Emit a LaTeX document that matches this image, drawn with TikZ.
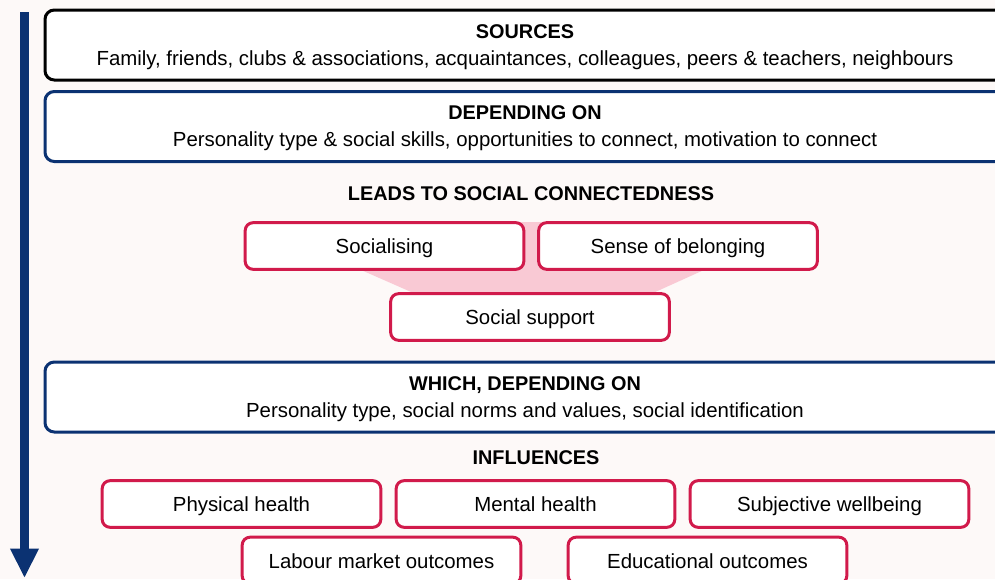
\documentclass[tikz,border=0pt]{standalone}
\usepackage{fontspec}
\setmainfont{Liberation Sans}
\usetikzlibrary{arrows.meta}

\definecolor{navy}{HTML}{0B3272}
\definecolor{crimson}{HTML}{D11A4B}
\definecolor{blush}{HTML}{F9C9D4}
\definecolor{paper}{HTML}{FDF9F8}

\tikzset{
    widebox/.style={draw, line width=2.25pt, rounded corners=7pt, fill=white,
        minimum width=720pt, minimum height=52.5pt, align=center, text depth=0pt,
        font=\fontsize{15.3}{20.25}\selectfont},
    outcome/.style={draw=crimson, line width=2.25pt, rounded corners=6pt, fill=white,
        minimum width=209pt, minimum height=35pt, text height=11.5pt, text depth=0pt,
        font=\fontsize{15.3}{18}\selectfont},
    heading/.style={font=\fontsize{14.9}{18}\selectfont\bfseries}
}

\begin{document}
\begin{tikzpicture}[x=0.75pt, y=-0.75pt]
    \useasboundingbox[fill=paper] (0,0) rectangle (995,579);
    \clip (0,0) rectangle (995,579);

    % Reading direction
    \coordinate (flowtop) at (24.5,12);
    \coordinate (flowend) at (24.5,578);
    \draw[navy, line width=6.75pt, -{Triangle[width=20pt,length=22pt]}] (flowtop) -- (flowend);

    % Sources and what they depend on
    \node[widebox, draw=black] (sources) at (525,45)
        {{\fontsize{14.9}{18}\selectfont\textbf{SOURCES}}\\Family, friends, clubs \& associations, acquaintances, colleagues, peers \& teachers, neighbours};
    \node[widebox, draw=navy] (depends) at (525,126.5)
        {{\fontsize{14.9}{18}\selectfont\textbf{DEPENDING ON}}\\Personality type \& social skills, opportunities to connect, motivation to connect};

    % Social connectedness
    \node[heading] (leads) at (531,194) {LEADS TO SOCIAL CONNECTEDNESS};
    \fill[blush] (252,222) -- (810,222) -- (600,317) -- (468,317) -- cycle;
    \node[outcome] (socialising) at (384.5,246) {Socialising};
    \node[outcome] (belonging) at (678,246) {Sense of belonging};
    \node[outcome] (support) at (530,317) {Social support};

    \node[widebox, draw=navy] (which) at (525,397)
        {{\fontsize{14.9}{18}\selectfont\textbf{WHICH, DEPENDING ON}}\\Personality type, social norms and values, social identification};

    % Outcomes
    \node[heading] (influences) at (536,458) {INFLUENCES};
    \node[outcome] (physical) at (241.5,504) {Physical health};
    \node[outcome] (mental) at (535.5,504) {Mental health};
    \node[outcome] (wellbeing) at (829.5,504) {Subjective wellbeing};
    \node[outcome] (labour) at (381.5,560.5) {Labour market outcomes};
    \node[outcome] (education) at (707.5,560.5) {Educational outcomes};
\end{tikzpicture}
\end{document}
